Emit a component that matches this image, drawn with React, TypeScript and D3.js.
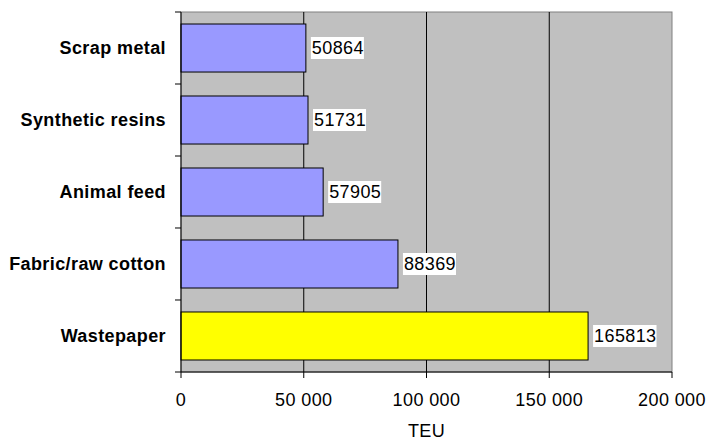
import * as d3 from 'd3';
import * as React from 'react';

const categories = ['Scrap metal', 'Synthetic resins', 'Animal feed', 'Fabric/raw cotton', 'Wastepaper'];
const values = [50864, 51731, 57905, 88369, 165813];
const barColors = ['#9999FF', '#9999FF', '#9999FF', '#9999FF', '#FFFF00'];
const xTicks = [0, 50000, 100000, 150000, 200000];
const xTitle = 'TEU';

const W = 707;
const H = 441;
const plot = { left: 181, top: 12, right: 672, bottom: 372 };
const FS = 18;
const LS = 0.4;

const fmt = (v: number) => d3.format(',')(v).replace(/,/g, ' ');

export default function App() {
  const x = d3.scaleLinear().domain([0, 200000]).range([plot.left, plot.right]);
  const y = d3.scaleBand<string>().domain(categories).range([plot.top, plot.bottom]).paddingInner(0.333).paddingOuter(0.1667);
  const step = y.step();
  const font = 'Arial, "Liberation Sans", sans-serif';

  return (
    <svg width={W} height={H} style={{ position: 'absolute', left: 0, top: 0 }} fontFamily={font} letterSpacing={LS}>
      <rect x={0} y={0} width={W} height={H} fill="#fff" />
      <rect x={plot.left} y={plot.top} width={plot.right - plot.left} height={plot.bottom - plot.top} fill="#C0C0C0" stroke="#808080" strokeWidth={1} />
      {xTicks.slice(1, -1).map((t) => (
        <line key={t} x1={x(t)} x2={x(t)} y1={plot.top} y2={plot.bottom} stroke="#000" strokeWidth={1} />
      ))}
      {categories.map((c, i) => {
        const v = values[i];
        const by = y(c)!;
        const bh = y.bandwidth();
        const label = String(v);
        const tw = label.length * (0.556 * FS + LS);
        const lx = x(v) + 5;
        const cy = by + bh / 2;
        return (
          <g key={c}>
            <rect x={x(0)} y={by} width={x(v) - x(0)} height={bh} fill={barColors[i]} stroke="#000" strokeWidth={1} />
            <rect x={lx} y={cy - 11} width={tw + 1} height={22} fill="#fff" />
            <text x={lx + 1} y={cy} dy="0.36em" fontSize={FS} fill="#000">{label}</text>
            <text x={166} y={cy} dy="0.36em" textAnchor="end" fontSize={FS} fontWeight="bold" fill="#000">{c}</text>
          </g>
        );
      })}
      {/* y axis */}
      <line x1={plot.left} x2={plot.left} y1={plot.top} y2={plot.bottom} stroke="#000" />
      {categories.map((c) => (
        <line key={c} x1={plot.left - 6} x2={plot.left} y1={y(c)! - (step - y.bandwidth()) / 2} y2={y(c)! - (step - y.bandwidth()) / 2} stroke="#000" />
      ))}
      <line x1={plot.left - 6} x2={plot.left} y1={plot.bottom} y2={plot.bottom} stroke="#000" />
      {/* x axis */}
      <line x1={plot.left} x2={plot.right} y1={plot.bottom} y2={plot.bottom} stroke="#000" />
      {xTicks.map((t) => (
        <g key={t}>
          <line x1={x(t)} x2={x(t)} y1={plot.bottom} y2={plot.bottom + 6} stroke="#000" />
          <text x={x(t)} y={406} textAnchor="middle" fontSize={FS} fill="#000">{fmt(t)}</text>
        </g>
      ))}
      <text x={x(100000)} y={437} textAnchor="middle" fontSize={FS} fill="#000">{xTitle}</text>
    </svg>
  );
}
